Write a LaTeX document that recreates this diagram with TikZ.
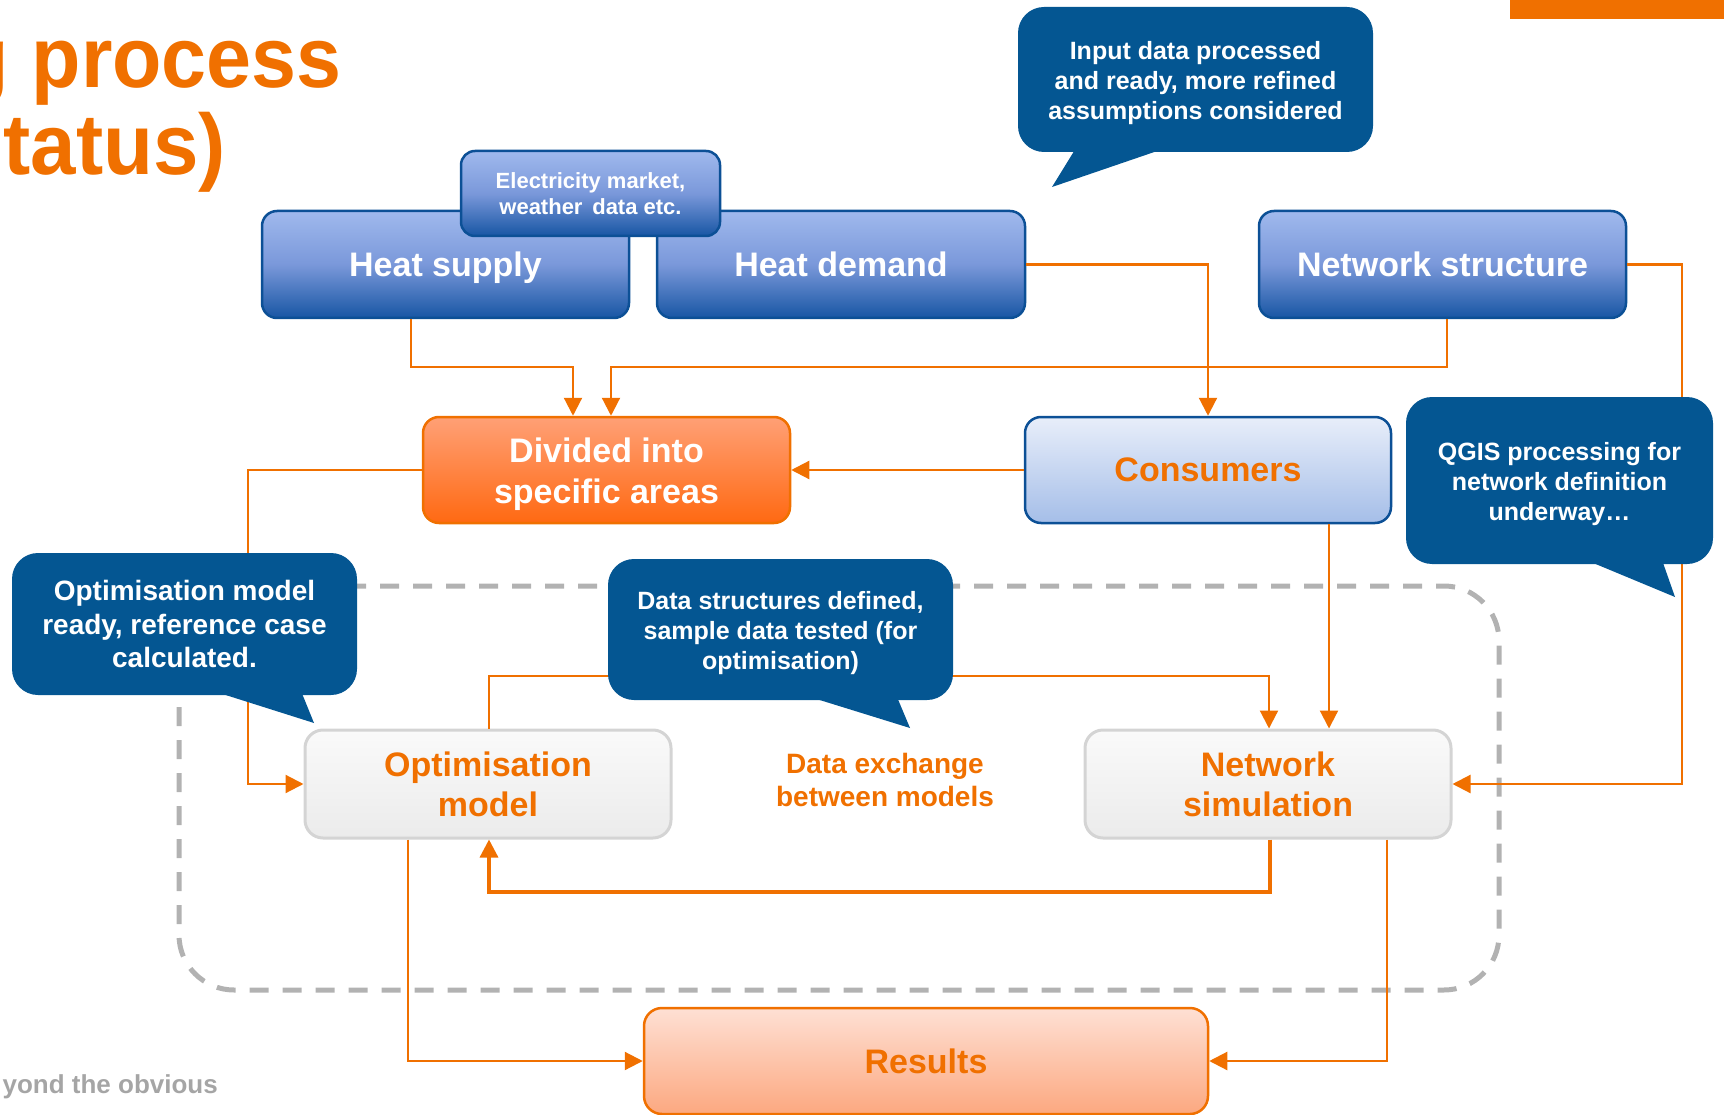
\documentclass[tikz,border=0pt]{standalone}
\usepackage{fontspec}
\setmainfont{Liberation Sans}
\usepackage{graphicx}
\usetikzlibrary{arrows.meta,calc}
\definecolor{orng}{RGB}{240,112,0}
\definecolor{cblue}{RGB}{4,86,146}
\definecolor{bborder}{RGB}{12,80,150}
\definecolor{btop}{RGB}{160,185,237}
\definecolor{bmid}{RGB}{122,152,218}
\definecolor{bbot}{RGB}{24,86,164}
\definecolor{dtop}{RGB}{255,160,118}
\definecolor{dbot}{RGB}{255,105,18}
\definecolor{ctop}{RGB}{232,238,250}
\definecolor{cbot}{RGB}{165,190,232}
\definecolor{gtop}{RGB}{250,250,250}
\definecolor{gbot}{RGB}{235,235,235}
\definecolor{gborder}{RGB}{212,212,212}
\definecolor{rtop}{RGB}{254,224,212}
\definecolor{rbot}{RGB}{252,168,128}
\definecolor{framegray}{RGB}{178,178,178}
\definecolor{footgray}{RGB}{165,165,165}
\newcommand{\liftA}{\rule{0pt}{25.5pt}}
\newcommand{\liftB}{\rule{0pt}{32.5pt}}
\begin{document}
\begin{tikzpicture}[x=1pt,y=-1pt,
  bluebox/.style={draw=bborder, line width=2.5pt, rounded corners=15pt,
    top color=btop, bottom color=bbot, middle color=bmid, text=white,
    font=\bfseries\fontsize{34}{40}\selectfont, inner sep=0pt, align=center},
  areabox/.style={draw=orng, line width=2.5pt, rounded corners=16pt,
    top color=dtop, bottom color=dbot, text=white,
    font=\bfseries\fontsize{34}{41}\selectfont, inner sep=0pt, align=center},
  consbox/.style={draw=bborder, line width=2.5pt, rounded corners=16pt,
    top color=ctop, bottom color=cbot, text=orng,
    font=\bfseries\fontsize{34}{40}\selectfont, inner sep=0pt, align=center},
  modelbox/.style={draw=gborder, line width=3pt, rounded corners=18pt,
    top color=gtop, bottom color=gbot, text=orng,
    font=\bfseries\fontsize{34}{40}\selectfont, inner sep=0pt, align=center},
  resbox/.style={draw=orng, line width=2.5pt, rounded corners=18pt,
    top color=rtop, bottom color=rbot, text=orng,
    font=\bfseries\fontsize{34}{40}\selectfont, inner sep=0pt, align=center},
  bubble/.style={fill=cblue, rounded corners=26pt, text=white,
    font=\bfseries\fontsize{25}{30}\selectfont, inner sep=0pt, align=center},
  conn/.style={draw=orng, line width=2.2pt, -{Triangle[length=18pt,width=18pt]}},
  frame/.style={draw=framegray, line width=5pt, dash pattern=on 19pt off 14pt, rounded corners=55pt}
]
\useasboundingbox (0,0) rectangle (1724,1115);
\clip (0,0) rectangle (1724,1115);

% dashed frame around the models
\draw[frame] (179,586) rectangle (1499,990);

% boxes
\node[bluebox, minimum width=367pt, minimum height=107pt, text depth=0pt] (hs) at (445.5,264.5) {Heat supply};
\node[bluebox, minimum width=368pt, minimum height=107pt] (hd) at (841,264.5) {Heat demand};
\node[bluebox, minimum width=259pt, minimum height=85pt, rounded corners=14pt,
      font=\bfseries\fontsize{22}{26}\selectfont] (elec) at (590.5,193.5) {Electricity\ market,\\weather\ \,data etc.};
\node[bluebox, minimum width=367pt, minimum height=107pt] (ns) at (1442.5,264.5) {Network structure};
\node[areabox, minimum width=367pt, minimum height=106pt] (dv) at (606.5,470) {\liftB Divided into\\specific areas};
\node[consbox, minimum width=366pt, minimum height=106pt] (cons) at (1208,470) {Consumers};
\node[modelbox, minimum width=366pt, minimum height=108pt] (opt) at (488,784) {Optimisation\\model};
\node[modelbox, minimum width=366pt, minimum height=108pt] (sim) at (1268,784) {Network\\simulation};
\node[resbox, minimum width=564pt, minimum height=106pt] (res) at (926,1061) {Results};

% connectors
\draw[conn] (hs.south -| 411,0) |- (573,367) -- (dv.north -| 573,0);
\draw[conn] (ns.south -| 1447,0) |- (611,367) -- (dv.north -| 611,0);
\draw[conn] (hd.east) -| (cons.north -| 1208,0);
\draw[conn] (cons.west) -- (dv.east);
\draw[conn] (ns.east) -| (sim.east -| 1682,0) -- (sim.east);
\draw[conn] (dv.west) -| (opt.west -| 248,0) -- (opt.west);
\draw[conn] (opt.north -| 489,0) |- (1269,676) -- (sim.north -| 1269,0);
\draw[conn] (cons.south -| 1329,0) -- (sim.north -| 1329,0);
\draw[conn, line width=3.2pt] (sim.south -| 1270,0) |- (489,892) -- (opt.south -| 489,0);
\draw[conn] (opt.south -| 408,0) |- (res.west);
\draw[conn] (sim.south -| 1387,0) |- (res.east);

% label
\node[text=orng, font=\bfseries\fontsize{28}{33}\selectfont, align=center, inner sep=0pt] (dx) at (885,779.5) {Data exchange\\between\ models};

% speech bubbles
\node[bubble, minimum width=355pt, minimum height=145pt] (b1) at (1195.5,79.5) {\liftA Input data processed\\and ready, more refined\\assumptions considered};
\coordinate (b1tip) at (1052,187);
\fill[cblue] (1076,148) -- (b1tip) -- (1166,148) -- cycle;

\node[bubble, minimum width=307pt, minimum height=167pt] (b2) at (1559.5,480.5) {\liftA QGIS processing for\\network definition\\underway…};
\coordinate (b2tip) at (1675,597);
\fill[cblue] (1586,560) -- (b2tip) -- (1662,560) -- cycle;

\node[bubble, minimum width=345pt, minimum height=141pt] (b3) at (780.5,629.5) {\liftA Data structures defined,\\sample data tested (for\\optimisation)};
\coordinate (b3tip) at (910,728);
\fill[cblue] (810,697) -- (b3tip) -- (897,697) -- cycle;

\node[bubble, minimum width=345pt, minimum height=142pt,
      font=\bfseries\fontsize{28}{33.5}\selectfont] (b4) at (184.5,624) {Optimisation model\\ready, reference case\\calculated.};
\coordinate (b4tip) at (314,723);
\fill[cblue] (213,691) -- (b4tip) -- (301,691) -- cycle;

% title, bar, footer
\node[anchor=base east, text=orng, inner sep=0pt, font=\bfseries\fontsize{86}{90}\selectfont] (t1) at (342,88) {\scalebox{0.94}[1]{g process}};
\node[anchor=base east, text=orng, inner sep=0pt, font=\bfseries\fontsize{86}{90}\selectfont] (t2) at (226,175) {\scalebox{0.95}[1]{tatus)}};
\fill[orng] (1510,0) rectangle (1724,19);
\node[anchor=base east, text=footgray, inner sep=0pt, font=\bfseries\fontsize{26}{30}\selectfont] (foot) at (218,1093) {yond the obvious};
\end{tikzpicture}
\end{document}
